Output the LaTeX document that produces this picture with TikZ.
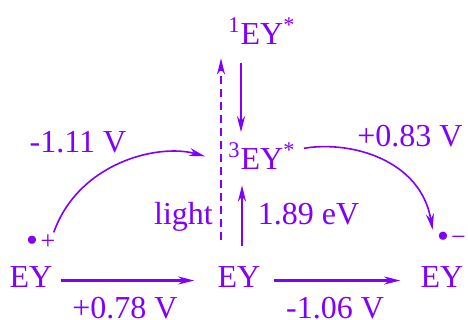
\documentclass[tikz,border=0pt]{standalone}
\usepackage{fontspec}
\setmainfont{Liberation Serif}
\usetikzlibrary{arrows.meta}
\definecolor{eyviolet}{RGB}{128,0,255}
\newcommand{\raddot}{{\fontsize{17}{17}\selectfont\raisebox{-1pt}{\textbullet}}}

\begin{document}
\begin{tikzpicture}[x=0.5pt,y=-0.5pt,
		color=eyviolet, font=\fontsize{16}{19}\selectfont,
		>={Stealth[length=8pt,width=4pt,inset=2.5pt]},
		every node/.style={inner sep=4pt},
		state/.style={anchor=base},
		rad/.style={anchor=base, inner sep=1pt, font=\fontsize{13}{13}\selectfont},
		thick arrow/.style={->, line width=1.1pt},
		curve arrow/.style={->, line width=0.8pt}]
				\useasboundingbox (0,0) rectangle (468,320);
				
				\node[state] (ey1) at (31,288) {EY};
				\node[state] (ey2) at (239,288) {EY};
				\node[state] (ey3) at (442,288) {EY};
				\node[state] (t1) at (262,45) {\textsuperscript{1}EY\textsuperscript{*}};
				\node[state] (t3) at (262,170) {\textsuperscript{3}EY\textsuperscript{*}};
				\node[rad] (cat) at (40.7,249.5) {\raddot\kern1.35pt+};
				\node[rad] (an) at (451.4,245.5) {\raddot\kern1.1pt\char"2212};
				
				\node[state] (light) at (183.5,225) {light};
				\node[state] (gap) at (308.5,225) {1.89 eV};
				\node[state] (vl) at (78,153) {-1.11 V};
				\node[state] (vr) at (410,147) {+0.83 V};
				\node[state] (vb1) at (125,319) {+0.78 V};
				\node[state] (vb2) at (335,319) {-1.06 V};
				
				\draw[thick arrow, shorten >=7.5pt] ([yshift=-1.5pt]ey1.east) -- ([yshift=-1.5pt]ey2.west);
				\draw[thick arrow, shorten <=2.5pt, shorten >=6pt] ([yshift=-1.5pt]ey2.east) -- ([yshift=-1.5pt]ey3.west);
				\draw[thick arrow, shorten <=5pt, shorten >=1pt] ([xshift=-10.5pt]t1.south) -- ([xshift=-10.5pt]t3.north);
				\draw[thick arrow, shorten <=6.5pt, shorten >=3.5pt] ([xshift=1.5pt]ey2.north) -- ([xshift=-10pt]t3.south);
				\draw[thick arrow, dash pattern=on 4pt off 2.5pt] ([xshift=-9pt,yshift=9.5pt]ey2.north) -- ([xshift=-20.5pt,yshift=-2.5pt]t1.south);
				
				\draw[curve arrow] ([xshift=-2pt]cat.north east) .. controls +(25,-70) and +(-47,-13) .. ([xshift=-7.5pt]t3.west);
				\draw[curve arrow] ([yshift=4pt]t3.east) .. controls +(47,-8) and +(-12,-70) .. ([xshift=-1pt]an.north west);
			\end{tikzpicture}
\end{document}
